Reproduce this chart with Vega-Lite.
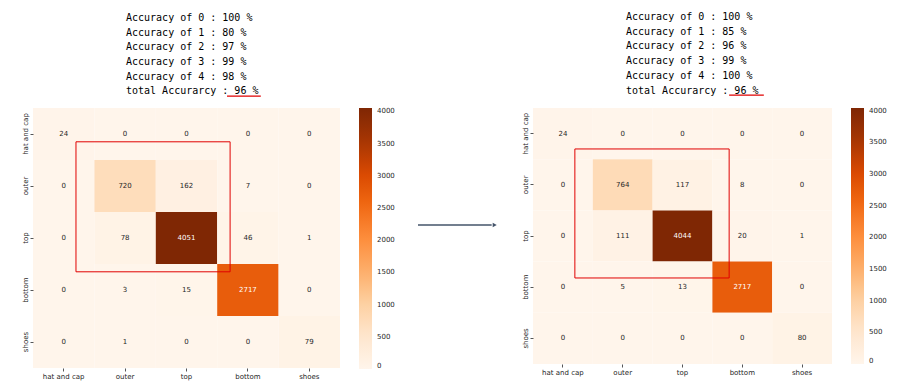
{
  "$schema": "https://vega.github.io/schema/vega-lite/v6.json",
  "background": "white",
  "padding": {"left": 21, "top": 12, "right": 2, "bottom": 2},
  "config": {
    "view": {"stroke": null},
    "concat": {"spacing": 24},
    "font": "DejaVu Sans",
    "axis": {"labelFont": "DejaVu Sans", "labelFontSize": 7, "labelColor": "#262626", "tickColor": "#555555", "tickSize": 3, "labelPadding": 1.5, "domain": false, "grid": false, "title": null},
    "legend": {"labelFont": "DejaVu Sans", "labelFontSize": 7, "labelColor": "#262626"},
    "title": {"font": "DejaVu Sans Mono", "fontSize": 10, "fontWeight": "normal", "color": "black", "anchor": "start", "frame": "group", "lineHeight": 14.7, "offset": -1}
  },
  "resolve": {"scale": {"color": "independent"}, "legend": {"color": "independent"}},
  "hconcat": [
    {
      "width": 307,
      "height": 260,
      "title": {"text": ["Accuracy of 0 : 100 %", "Accuracy of 1 : 80 %", "Accuracy of 2 : 97 %", "Accuracy of 3 : 99 %", "Accuracy of 4 : 98 %", "total Accurarcy : 96 %"], "dx": 93},
      "resolve": {"scale": {"x": "independent", "y": "independent"}},
      "layer": [
        {
          "data": {"values": [
            {"actual": "hat and cap", "pred": "hat and cap", "count": 24},
            {"actual": "hat and cap", "pred": "outer", "count": 0},
            {"actual": "hat and cap", "pred": "top", "count": 0},
            {"actual": "hat and cap", "pred": "bottom", "count": 0},
            {"actual": "hat and cap", "pred": "shoes", "count": 0},
            {"actual": "outer", "pred": "hat and cap", "count": 0},
            {"actual": "outer", "pred": "outer", "count": 720},
            {"actual": "outer", "pred": "top", "count": 162},
            {"actual": "outer", "pred": "bottom", "count": 7},
            {"actual": "outer", "pred": "shoes", "count": 0},
            {"actual": "top", "pred": "hat and cap", "count": 0},
            {"actual": "top", "pred": "outer", "count": 78},
            {"actual": "top", "pred": "top", "count": 4051},
            {"actual": "top", "pred": "bottom", "count": 46},
            {"actual": "top", "pred": "shoes", "count": 1},
            {"actual": "bottom", "pred": "hat and cap", "count": 0},
            {"actual": "bottom", "pred": "outer", "count": 3},
            {"actual": "bottom", "pred": "top", "count": 15},
            {"actual": "bottom", "pred": "bottom", "count": 2717},
            {"actual": "bottom", "pred": "shoes", "count": 0},
            {"actual": "shoes", "pred": "hat and cap", "count": 0},
            {"actual": "shoes", "pred": "outer", "count": 1},
            {"actual": "shoes", "pred": "top", "count": 0},
            {"actual": "shoes", "pred": "bottom", "count": 0},
            {"actual": "shoes", "pred": "shoes", "count": 79}
          ]},
          "encoding": {
            "x": {"field": "pred", "type": "ordinal", "sort": ["hat and cap", "outer", "top", "bottom", "shoes"], "axis": {"labelAngle": 0}},
            "y": {"field": "actual", "type": "ordinal", "sort": ["hat and cap", "outer", "top", "bottom", "shoes"], "axis": {"labelAngle": -90}}
          },
          "layer": [
            {
              "mark": {"type": "rect"},
              "encoding": {
                "color": {"field": "count", "type": "quantitative",
                  "scale": {"domain": [0, 4051], "nice": false, "range": ["#fff5eb", "#fee6ce", "#fdd0a2", "#fdae6b", "#fd8d3c", "#f16913", "#d94801", "#a63603", "#7f2704"]},
                  "legend": {"title": null, "direction": "vertical", "orient": "right", "format": "d", "gradientLength": 261, "gradientThickness": 13, "gradientStrokeWidth": 0, "offset": 19, "labelOffset": 5, "values": [0, 500, 1000, 1500, 2000, 2500, 3000, 3500, 4000]}}
              }
            },
            {
              "mark": {"type": "text", "fontSize": 7, "font": "DejaVu Sans"},
              "encoding": {
                "text": {"field": "count", "type": "quantitative"},
                "color": {"condition": {"test": "datum.count > 2000", "value": "white"}, "value": "#262626"}
              }
            }
          ]
        },
        {
          "data": {"values": [{"x0": 0.7, "x1": 3.21, "y0": 0.65, "y1": 3.15}]},
          "mark": {"type": "rect", "fill": null, "stroke": "#e00000", "strokeWidth": 1},
          "encoding": {
            "x": {"field": "x0", "type": "quantitative", "scale": {"domain": [0, 5], "nice": false, "zero": false}, "axis": null},
            "x2": {"field": "x1"},
            "y": {"field": "y0", "type": "quantitative", "scale": {"domain": [0, 5], "nice": false, "zero": false, "reverse": true}, "axis": null},
            "y2": {"field": "y1"}
          }
        },
        {
          "data": {"values": [{"x0": 3.16, "x1": 3.71, "y0": -0.23}]},
          "mark": {"type": "rule", "stroke": "#e00000", "strokeWidth": 1.2},
          "encoding": {
            "x": {"field": "x0", "type": "quantitative", "scale": {"domain": [0, 5], "nice": false, "zero": false}, "axis": null},
            "x2": {"field": "x1"},
            "y": {"field": "y0", "type": "quantitative", "scale": {"domain": [0, 5], "nice": false, "zero": false, "reverse": true}, "axis": null}
          }
        },
        {
          "data": {"values": [{"x0": 6.27, "x1": 7.47, "y0": 2.25}]},
          "mark": {"type": "rule", "stroke": "#44546a", "strokeWidth": 1.3},
          "encoding": {
            "x": {"field": "x0", "type": "quantitative", "scale": {"domain": [0, 5], "nice": false, "zero": false}, "axis": null},
            "x2": {"field": "x1"},
            "y": {"field": "y0", "type": "quantitative", "scale": {"domain": [0, 5], "nice": false, "zero": false, "reverse": true}, "axis": null}
          }
        },
        {
          "data": {"values": [{"x0": 7.52, "y0": 2.25}]},
          "mark": {"type": "point", "shape": "triangle-right", "filled": true, "color": "#44546a", "size": 22, "opacity": 1},
          "encoding": {
            "x": {"field": "x0", "type": "quantitative", "scale": {"domain": [0, 5], "nice": false, "zero": false}, "axis": null},
            "y": {"field": "y0", "type": "quantitative", "scale": {"domain": [0, 5], "nice": false, "zero": false, "reverse": true}, "axis": null}
          }
        }
      ]
    },
    {
      "width": 299,
      "height": 256,
      "title": {"text": ["Accuracy of 0 : 100 %", "Accuracy of 1 : 85 %", "Accuracy of 2 : 96 %", "Accuracy of 3 : 99 %", "Accuracy of 4 : 100 %", "total Accurarcy : 96 %"], "dx": 93},
      "resolve": {"scale": {"x": "independent", "y": "independent"}},
      "layer": [
        {
          "data": {"values": [
            {"actual": "hat and cap", "pred": "hat and cap", "count": 24},
            {"actual": "hat and cap", "pred": "outer", "count": 0},
            {"actual": "hat and cap", "pred": "top", "count": 0},
            {"actual": "hat and cap", "pred": "bottom", "count": 0},
            {"actual": "hat and cap", "pred": "shoes", "count": 0},
            {"actual": "outer", "pred": "hat and cap", "count": 0},
            {"actual": "outer", "pred": "outer", "count": 764},
            {"actual": "outer", "pred": "top", "count": 117},
            {"actual": "outer", "pred": "bottom", "count": 8},
            {"actual": "outer", "pred": "shoes", "count": 0},
            {"actual": "top", "pred": "hat and cap", "count": 0},
            {"actual": "top", "pred": "outer", "count": 111},
            {"actual": "top", "pred": "top", "count": 4044},
            {"actual": "top", "pred": "bottom", "count": 20},
            {"actual": "top", "pred": "shoes", "count": 1},
            {"actual": "bottom", "pred": "hat and cap", "count": 0},
            {"actual": "bottom", "pred": "outer", "count": 5},
            {"actual": "bottom", "pred": "top", "count": 13},
            {"actual": "bottom", "pred": "bottom", "count": 2717},
            {"actual": "bottom", "pred": "shoes", "count": 0},
            {"actual": "shoes", "pred": "hat and cap", "count": 0},
            {"actual": "shoes", "pred": "outer", "count": 0},
            {"actual": "shoes", "pred": "top", "count": 0},
            {"actual": "shoes", "pred": "bottom", "count": 0},
            {"actual": "shoes", "pred": "shoes", "count": 80}
          ]},
          "encoding": {
            "x": {"field": "pred", "type": "ordinal", "sort": ["hat and cap", "outer", "top", "bottom", "shoes"], "axis": {"labelAngle": 0}},
            "y": {"field": "actual", "type": "ordinal", "sort": ["hat and cap", "outer", "top", "bottom", "shoes"], "axis": {"labelAngle": -90}}
          },
          "layer": [
            {
              "mark": {"type": "rect"},
              "encoding": {
                "color": {"field": "count", "type": "quantitative",
                  "scale": {"domain": [0, 4044], "nice": false, "range": ["#fff5eb", "#fee6ce", "#fdd0a2", "#fdae6b", "#fd8d3c", "#f16913", "#d94801", "#a63603", "#7f2704"]},
                  "legend": {"title": null, "direction": "vertical", "orient": "right", "format": "d", "gradientLength": 256, "gradientThickness": 13, "gradientStrokeWidth": 0, "offset": 19, "labelOffset": 5, "values": [0, 500, 1000, 1500, 2000, 2500, 3000, 3500, 4000]}}
              }
            },
            {
              "mark": {"type": "text", "fontSize": 7, "font": "DejaVu Sans"},
              "encoding": {
                "text": {"field": "count", "type": "quantitative"},
                "color": {"condition": {"test": "datum.count > 2000", "value": "white"}, "value": "#262626"}
              }
            }
          ]
        },
        {
          "data": {"values": [{"x0": 0.7, "x1": 3.28, "y0": 0.8, "y1": 3.32}]},
          "mark": {"type": "rect", "fill": null, "stroke": "#e00000", "strokeWidth": 1},
          "encoding": {
            "x": {"field": "x0", "type": "quantitative", "scale": {"domain": [0, 5], "nice": false, "zero": false}, "axis": null},
            "x2": {"field": "x1"},
            "y": {"field": "y0", "type": "quantitative", "scale": {"domain": [0, 5], "nice": false, "zero": false, "reverse": true}, "axis": null},
            "y2": {"field": "y1"}
          }
        },
        {
          "data": {"values": [{"x0": 3.28, "x1": 3.86, "y0": -0.25}]},
          "mark": {"type": "rule", "stroke": "#e00000", "strokeWidth": 1.2},
          "encoding": {
            "x": {"field": "x0", "type": "quantitative", "scale": {"domain": [0, 5], "nice": false, "zero": false}, "axis": null},
            "x2": {"field": "x1"},
            "y": {"field": "y0", "type": "quantitative", "scale": {"domain": [0, 5], "nice": false, "zero": false, "reverse": true}, "axis": null}
          }
        }
      ]
    }
  ]
}
